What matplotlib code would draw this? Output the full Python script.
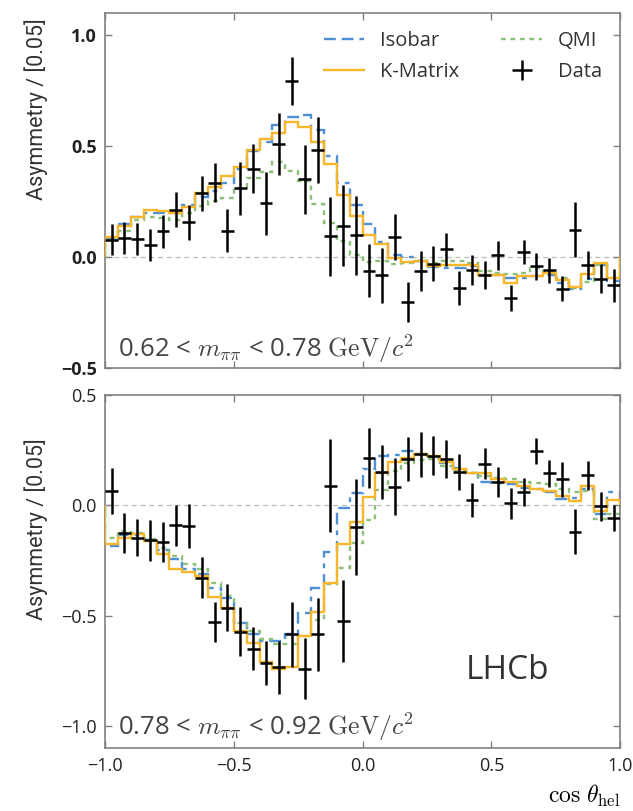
import matplotlib
matplotlib.use("Agg")
import matplotlib.pyplot as plt
import numpy as np

# cos(theta_hel) binning: 40 bins of 0.05
edges = np.linspace(-1.0, 1.0, 41)
centers = 0.5 * (edges[:-1] + edges[1:])

# 0.62 < m_pipi < 0.78 GeV
top_data = [0.08, 0.087, 0.083, 0.057, 0.117, 0.215, 0.158, 0.288, 0.336, 0.12,
            0.31, 0.40, 0.243, 0.512, 0.795, 0.351, 0.482, 0.095, 0.143, 0.10,
            -0.06, -0.081, 0.09, -0.203, -0.063, -0.03, 0.035, -0.139, -0.056, -0.081,
            0.009, -0.184, 0.024, -0.041, -0.059, -0.142, 0.125, -0.033, -0.096, -0.127]
top_err = [0.072, 0.072, 0.072, 0.072, 0.073, 0.08, 0.079, 0.078, 0.089, 0.098,
           0.119, 0.111, 0.142, 0.139, 0.109, 0.157, 0.148, 0.178, 0.184, 0.178,
           0.12, 0.124, 0.104, 0.09, 0.089, 0.079, 0.075, 0.075, 0.068, 0.064,
           0.066, 0.059, 0.056, 0.06, 0.056, 0.057, 0.124, 0.063, 0.066, 0.075]
top_isobar = [0.085, 0.15, 0.18, 0.2, 0.2, 0.2, 0.236, 0.27, 0.30, 0.335,
              0.396, 0.48, 0.52, 0.595, 0.634, 0.64, 0.572, 0.456, 0.336, 0.235,
              0.15, 0.069, 0.012, 0.001, -0.015, -0.045, -0.048, -0.05, -0.04, -0.078,
              -0.078, -0.093, -0.093, -0.086, -0.078, -0.116, -0.142, -0.1, -0.033, -0.105]
top_kmatrix = [0.09, 0.14, 0.18, 0.212, 0.208, 0.2, 0.226, 0.29, 0.316, 0.366,
               0.407, 0.482, 0.532, 0.558, 0.611, 0.587, 0.521, 0.419, 0.279, 0.185,
               0.1, 0.06, -0.003, -0.021, -0.015, -0.039, -0.033, -0.033, -0.033, -0.078,
               -0.078, -0.116, -0.086, -0.083, -0.071, -0.101, -0.134, -0.077, -0.028, -0.094]
top_qmi = [0.08, 0.117, 0.17, 0.18, 0.177, 0.166, 0.2, 0.23, 0.253, 0.265,
           0.313, 0.358, 0.384, 0.428, 0.389, 0.343, 0.238, 0.155, 0.075, 0.009,
           -0.023, -0.018, -0.03, -0.025, -0.015, -0.025, -0.015, -0.018, -0.025, -0.06,
           -0.071, -0.075, -0.071, -0.048, -0.065, -0.093, -0.14, -0.11, -0.033, -0.093]

# 0.78 < m_pipi < 0.92 GeV
bot_data = [0.065, -0.124, -0.146, -0.157, -0.166, -0.09, -0.094, -0.327, -0.528, -0.463,
            -0.571, -0.649, -0.712, -0.734, -0.584, -0.739, -0.584, 0.09, -0.523, -0.098,
            0.216, 0.151, 0.085, 0.211, 0.231, 0.226, 0.211, 0.151, 0.024, 0.189,
            0.106, 0.009, 0.06, 0.246, 0.145, 0.118, -0.119, 0.136, -0.003, -0.056]
bot_err = [0.103, 0.092, 0.085, 0.093, 0.09, 0.094, 0.1, 0.093, 0.089, 0.106,
           0.109, 0.098, 0.1, 0.12, 0.147, 0.137, 0.164, 0.211, 0.185, 0.219,
           0.136, 0.124, 0.128, 0.1, 0.102, 0.09, 0.087, 0.081, 0.078, 0.07,
           0.068, 0.07, 0.064, 0.058, 0.06, 0.078, 0.102, 0.066, 0.066, 0.058]
bot_isobar = [-0.184, -0.136, -0.136, -0.158, -0.204, -0.241, -0.287, -0.309, -0.372, -0.418,
              -0.534, -0.581, -0.614, -0.614, -0.584, -0.489, -0.376, -0.211, -0.011, 0.057,
              0.166, 0.223, 0.23, 0.246, 0.235, 0.216, 0.193, 0.17, 0.148, 0.106,
              0.103, 0.098, 0.08, 0.075, 0.06, 0.03, 0.035, 0.075, -0.041, 0.06]
bot_kmatrix = [-0.176, -0.146, -0.131, -0.161, -0.222, -0.287, -0.302, -0.32, -0.413, -0.463,
               -0.569, -0.621, -0.709, -0.739, -0.734, -0.591, -0.483, -0.353, -0.176, -0.075,
               0.039, 0.148, 0.196, 0.216, 0.231, 0.226, 0.196, 0.163, 0.145, 0.148,
               0.12, 0.106, 0.087, 0.075, 0.065, 0.042, 0.02, 0.09, -0.023, 0.024]
bot_qmi = [-0.146, -0.116, -0.124, -0.152, -0.191, -0.229, -0.267, -0.29, -0.353, -0.41,
           -0.531, -0.569, -0.606, -0.629, -0.627, -0.59, -0.519, -0.357, -0.282, -0.169,
           -0.066, 0.072, 0.155, 0.193, 0.208, 0.21, 0.18, 0.155, 0.148, 0.133,
           0.125, 0.12, 0.106, 0.1, 0.095, 0.075, 0.06, 0.065, -0.06, -0.041]

plt.rcParams['mathtext.fontset'] = 'cm'
plt.rcParams['font.family'] = ['Open Sans', 'DejaVu Sans']

BLUE = '#4f8fd6'
ORANGE = '#f8b62a'
GREEN = '#8cbf78'
SPINE = '#808080'
TXT = '#444444'

fig = plt.figure(figsize=(6.33, 8.11), dpi=100)
ax1 = fig.add_axes([0.166, 0.546, 0.8136, 0.4377])
ax2 = fig.add_axes([0.166, 0.0773, 0.8136, 0.4356])


def draw_panel(ax, data, err, isobar, kmat, qmi):
    ax.axhline(0, color='#bbbbbb', ls='--', lw=0.9, dashes=(4, 3), zorder=1)
    ax.stairs(isobar, edges, color=BLUE, lw=1.7, ls=(0, (5, 2.5, 5, 2.5, 2, 2.5)),
              label='Isobar', zorder=2)
    ax.stairs(qmi, edges, color=GREEN, lw=1.7, ls=(0, (2, 2)), label='QMI', zorder=2)
    ax.stairs(kmat, edges, color=ORANGE, lw=1.7, label='K-Matrix', zorder=3)
    ax.errorbar(centers, data, yerr=err, xerr=0.025, fmt='none', ecolor='black',
                elinewidth=1.8, capsize=0, label='Data', zorder=4)
    ax.set_xlim(-1.0, 1.0)
    ax.set_xticks([-1.0, -0.5, 0.0, 0.5, 1.0])
    ax.tick_params(direction='in', length=5, width=1, color=SPINE, top=True,
                   right=True, labelsize=13, labelcolor='#222222', pad=6)
    for s in ax.spines.values():
        s.set_color(SPINE)
        s.set_linewidth(1.2)
    ax.set_ylabel('Asymmetry / [0.05]', family=['Roboto', 'DejaVu Sans'],
                  fontsize=15.5, color='#333333')


draw_panel(ax1, top_data, top_err, top_isobar, top_kmatrix, top_qmi)
draw_panel(ax2, bot_data, bot_err, bot_isobar, bot_kmatrix, bot_qmi)

ax1.set_ylim(-0.5, 1.1)
ax1.set_yticks([-0.5, 0.0, 0.5, 1.0])
ax1.set_yticklabels(['\u22120.5', '0.0', '0.5', '1.0'], fontweight='bold')
ax1.tick_params(labelbottom=False)
ax2.set_ylim(-1.1, 0.5)
ax2.set_yticks([-1.0, -0.5, 0.0, 0.5])
ax2.set_yticklabels(['\u22121.0', '\u22120.5', '0.0', '0.5'])
ax2.set_xticklabels(['\u22121.0', '\u22120.5', '0.0', '0.5', '1.0'])

ax1.yaxis.set_label_coords(-0.11, 0.73)
ax2.yaxis.set_label_coords(-0.11, 0.62)

handles, labels = ax1.get_legend_handles_labels()
order = [labels.index(n) for n in ['Isobar', 'K-Matrix', 'QMI', 'Data']]
ax1.legend([handles[i] for i in order], [labels[i] for i in order], ncol=2,
           loc='upper right', bbox_to_anchor=(1.0, 1.0), frameon=False, fontsize=14.5,
           handlelength=2.0, columnspacing=2.1, labelspacing=0.55,
           labelcolor='#333333')

ax1.text(0.025, 0.055, r'0.62 < $m_{\pi\pi}$ < 0.78 $\mathrm{GeV}/c^2$', transform=ax1.transAxes,
         fontsize=18.5, color=TXT, va='center')
ax2.text(0.025, 0.06, r'0.78 < $m_{\pi\pi}$ < 0.92 $\mathrm{GeV}/c^2$', transform=ax2.transAxes,
         fontsize=18.5, color=TXT, va='center')
ax2.text(0.70, 0.22, 'LHCb', transform=ax2.transAxes, fontsize=24, color='#333333',
         va='center')

fig.text(0.98, 0.018, r'$\cos\,\theta_{\rm hel}$', ha='right', va='center', fontsize=17)

fig.savefig('out.png', dpi=100)
